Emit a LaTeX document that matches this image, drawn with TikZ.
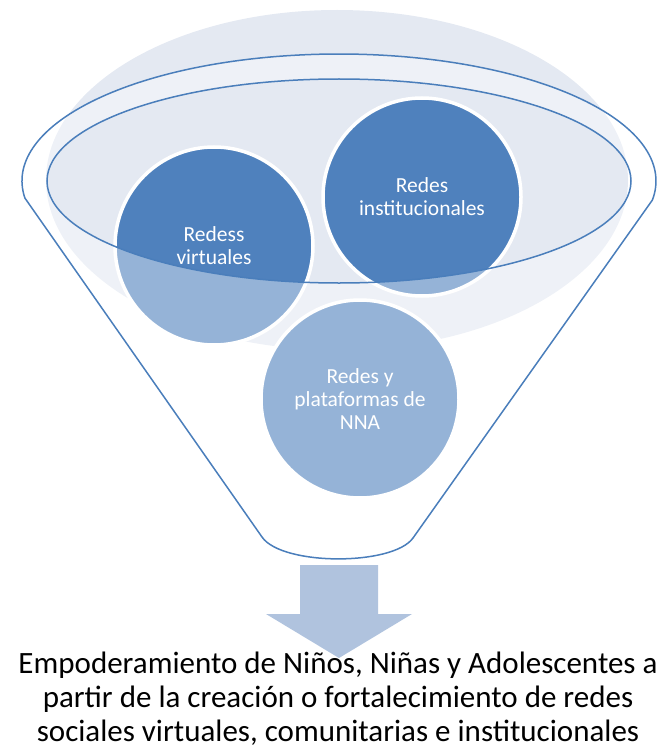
\documentclass[tikz,border=0pt]{standalone}
\usepackage{fontspec}
\setmainfont{Carlito}
\definecolor{bgell}{RGB}{228,233,242}
\definecolor{accent}{RGB}{79,129,189}
\definecolor{edge}{RGB}{74,126,187}
\definecolor{arrowfill}{RGB}{176,195,222}
\tikzset{
  bubble/.style={circle, minimum size=198pt, inner sep=0pt, fill=accent, draw=white, line width=3.5pt,
    text=white, align=center, font=\fontsize{21.5}{23}\selectfont},
  rim/.style={draw=edge, line width=1.5pt},
  caption/.style={align=center, inner sep=0pt, font=\fontsize{31}{34}\selectfont, text=black}
}
\begin{document}
\begin{tikzpicture}[x=1pt,y=1pt]
\useasboundingbox (0,0) rectangle (668,-749);
% background ellipse
\fill[bgell] (337,-180) ellipse [x radius=291pt, y radius=170pt];
% circles
\node[bubble] (virt) at (214,-246) {Redess\\virtuales};
\node[bubble] (inst) at (422,-197) {Redes\\institucionales};
\node[bubble] (nna) at (360,-399) {Redes y\\plataformas de\\NNA};
% funnel body (semi-transparent white, with hole)
\path[fill=white, fill opacity=0.4, even odd rule]
  (339,-181) ++(187.7:317pt and 127pt)
  arc[start angle=187.7, end angle=-8.6, x radius=317pt, y radius=127pt]
  -- (413,-538) .. controls (393,-566) and (282,-566) .. (262,-537) -- cycle
  (339,-181) ellipse [x radius=292pt, y radius=102pt];
% funnel outline
\draw[rim]
  (339,-181) ++(187.7:317pt and 127pt)
  arc[start angle=187.7, end angle=-8.6, x radius=317pt, y radius=127pt]
  -- (413,-538) .. controls (393,-566) and (282,-566) .. (262,-537) -- cycle;
\draw[rim] (339,-181) ellipse [x radius=292pt, y radius=102pt];
% arrow
\fill[arrowfill] (300,-565) -- (378,-565) -- (378,-614) -- (412,-614) -- (339,-658)
  -- (266,-614) -- (300,-614) -- cycle;
% caption
\node[caption] (cap) at (338,-699) {Empoderamiento de Niños, Niñas y Adolescentes a\\partir de la creación o fortalecimiento de redes\\sociales virtuales, comunitarias e institucionales};
\end{tikzpicture}
\end{document}
